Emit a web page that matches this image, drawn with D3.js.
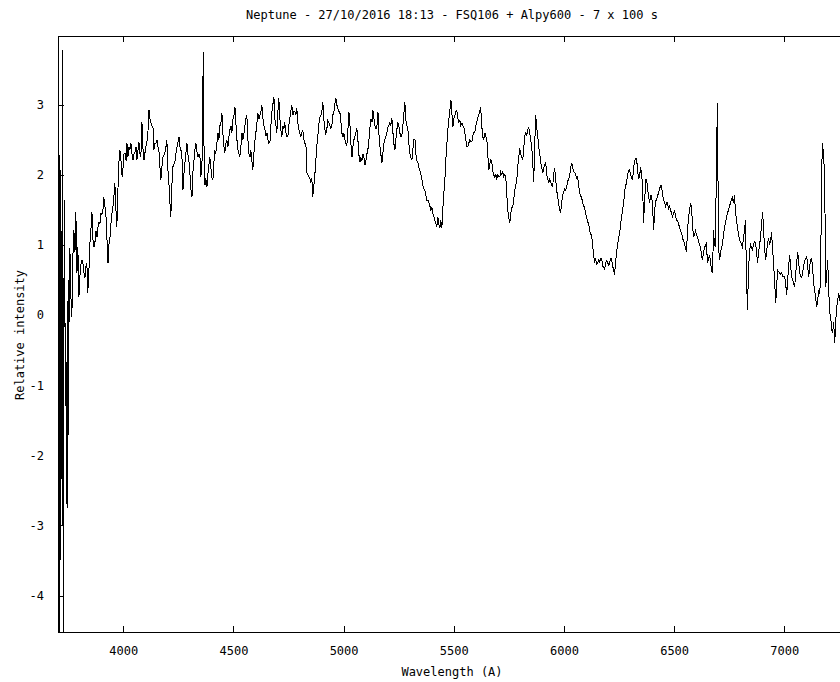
<!DOCTYPE html>
<html>
<head>
<meta charset="utf-8">
<script src="https://cdn.jsdelivr.net/npm/d3@7"></script>
<style>
	body { margin: 0; background: #fff; }
	text { font-family: "DejaVu Sans Mono", monospace; font-size: 12px; fill: #000; }
</style>
</head>
<body>
<div id="chart"></div>
<script>
// chart texts
var titleText = "Neptune - 27/10/2016 18:13 - FSQ106 + Alpy600 - 7 x 100 s";
var xLabelText = "Wavelength (A)";
var yLabelText = "Relative intensity";

// tick values
var xTicks = [4000, 4500, 5000, 5500, 6000, 6500, 7000];
var yTicks = [-4, -3, -2, -1, 0, 1, 2, 3];

// spectrum, wavelength in angstrom
var wavelength = [3706,3709,3713,3717,3720,3723,3726,3728,3731,3734,3737,3740,3742,3745,3747,3750,3753,3755,3758,3762,
	3767,3771,3776,3781,3785,3790,3794,3799,3806,3813,3817,3822,3826,3831,3835,3839,3844,3849,3853,3858,
	3862,3867,3872,3876,3881,3885,3890,3894,3899,3903,3908,3912,3917,3922,3926,3931,3935,3940,3944,3949,
	3953,3958,3962,3967,3971,3976,3980,3985,3990,3995,3999,4004,4008,4013,4017,4021,4026,4030,4035,4040,
	4044,4049,4053,4058,4062,4067,4071,4076,4080,4085,4089,4094,4098,4103,4107,4112,4117,4121,4126,4130,
	4135,4139,4144,4148,4153,4157,4162,4167,4171,4175,4180,4185,4189,4194,4198,4203,4207,4212,4216,4220,
	4225,4229,4234,4239,4244,4248,4253,4257,4262,4266,4271,4275,4280,4284,4289,4293,4298,4303,4307,4312,
	4316,4321,4325,4330,4334,4339,4344,4348,4352,4356,4359,4361,4364,4367,4371,4375,4380,4384,4389,4393,
	4398,4403,4407,4412,4416,4420,4425,4430,4434,4439,4444,4448,4452,4457,4461,4466,4470,4475,4480,4484,
	4489,4493,4498,4503,4507,4512,4516,4521,4525,4529,4534,4539,4543,4548,4552,4557,4561,4566,4570,4575,
	4579,4584,4588,4593,4598,4602,4607,4611,4616,4620,4625,4629,4634,4638,4643,4647,4652,4657,4661,4666,
	4670,4675,4679,4684,4688,4693,4697,4702,4706,4711,4715,4720,4724,4729,4733,4738,4742,4747,4751,4756,
	4760,4765,4770,4774,4779,4783,4788,4792,4797,4801,4806,4810,4815,4820,4824,4829,4833,4838,4842,4847,
	4851,4856,4860,4865,4869,4874,4878,4883,4887,4892,4897,4901,4906,4910,4915,4919,4924,4928,4933,4938,
	4942,4947,4951,4956,4960,4965,4969,4974,4979,4983,4988,4992,4997,5001,5006,5010,5015,5019,5024,5029,
	5033,5038,5042,5047,5051,5056,5060,5065,5069,5074,5078,5083,5088,5092,5097,5101,5106,5110,5115,5119,
	5124,5129,5133,5138,5142,5147,5151,5156,5160,5165,5169,5174,5178,5183,5187,5192,5196,5201,5205,5210,
	5214,5219,5224,5228,5233,5237,5242,5246,5251,5255,5260,5264,5269,5273,5278,5282,5287,5292,5296,5301,
	5305,5310,5314,5319,5324,5328,5333,5337,5342,5346,5351,5355,5360,5364,5369,5374,5378,5383,5387,5392,
	5396,5401,5405,5410,5414,5419,5423,5428,5432,5437,5441,5446,5450,5455,5460,5464,5469,5473,5478,5482,
	5487,5491,5496,5500,5505,5510,5514,5519,5523,5528,5532,5537,5541,5546,5550,5555,5559,5564,5568,5573,
	5577,5582,5586,5591,5595,5600,5604,5609,5613,5618,5622,5627,5632,5636,5641,5645,5650,5654,5659,5663,
	5668,5672,5677,5681,5686,5691,5695,5700,5704,5709,5713,5718,5722,5727,5731,5736,5740,5745,5749,5754,
	5759,5763,5768,5772,5777,5781,5786,5790,5795,5799,5804,5808,5813,5818,5822,5827,5831,5836,5840,5845,
	5849,5854,5858,5863,5867,5872,5876,5881,5885,5890,5894,5899,5904,5908,5913,5917,5922,5926,5931,5935,
	5940,5944,5949,5953,5958,5962,5967,5971,5976,5980,5985,5990,5994,5999,6003,6008,6012,6017,6021,6026,
	6030,6035,6040,6044,6049,6053,6058,6062,6067,6071,6076,6080,6085,6089,6094,6098,6103,6108,6112,6117,
	6121,6126,6130,6135,6139,6144,6148,6153,6158,6162,6167,6171,6176,6180,6185,6189,6194,6198,6203,6207,
	6212,6216,6221,6225,6230,6234,6239,6243,6248,6253,6257,6262,6266,6271,6275,6280,6284,6289,6293,6298,
	6303,6307,6312,6316,6321,6325,6330,6334,6339,6343,6348,6352,6357,6361,6366,6371,6375,6380,6384,6389,
	6393,6398,6403,6407,6412,6416,6420,6425,6430,6434,6439,6443,6448,6452,6457,6461,6466,6470,6475,6479,
	6484,6488,6493,6497,6502,6507,6511,6516,6520,6525,6529,6534,6538,6543,6547,6552,6556,6561,6565,6570,
	6574,6579,6583,6588,6593,6597,6602,6606,6611,6615,6620,6624,6629,6633,6638,6642,6647,6651,6656,6660,
	6665,6669,6674,6679,6683,6688,6692,6697,6701,6706,6711,6715,6720,6724,6729,6733,6738,6742,6747,6751,
	6756,6760,6765,6769,6774,6778,6783,6788,6792,6797,6801,6806,6810,6815,6819,6824,6828,6833,6837,6842,
	6847,6851,6856,6860,6865,6870,6874,6879,6883,6888,6892,6897,6902,6906,6911,6915,6920,6924,6929,6933,
	6938,6942,6947,6951,6956,6961,6965,6970,6974,6979,6983,6988,6992,6997,7002,7006,7011,7015,7020,7024,
	7029,7033,7038,7042,7047,7052,7056,7061,7065,7070,7074,7079,7083,7088,7092,7097,7102,7106,7111,7115,
	7120,7124,7129,7133,7138,7142,7147,7151,7156,7160,7165,7169,7174,7179,7183,7186,7188,7193,7197,7201,
	7206,7210,7215,7219,7224,7229,7233,7238,7242,7247,7252,7260,7270];

var intensity = [-1.78,-5.2,2.28,-3.5,1.2,-3.0,3.78,-5.2,-0.4,1.64,-1.3,-0.5,-1.45,-2.75,0.2,-1.71,0.5,-0.1,0.96,0.3,
	-0.03,0.8,1.21,0.9,1.47,0.6,0.97,0.26,0.7,0.78,0.74,0.6,0.53,0.7,0.74,0.31,0.6,1.03,1.2,1.47,
	1.1,0.97,1.05,1.2,1.11,1.25,1.33,1.3,1.45,1.43,1.5,1.68,1.55,1.40,1.1,0.74,1.0,1.11,1.3,1.45,
	1.54,1.7,1.88,1.5,1.26,1.78,2.17,2.35,2.2,1.97,2.1,2.31,2.31,2.2,2.45,2.25,2.4,2.35,2.45,2.3,
	2.21,2.3,2.31,2.4,2.21,2.35,2.47,2.3,2.25,2.75,2.4,2.21,2.3,2.4,2.45,2.6,2.92,2.8,2.74,2.7,
	2.68,2.35,2.45,2.45,2.50,2.4,2.35,2.1,1.93,2.1,2.25,2.28,2.31,2.4,2.50,2.07,1.9,1.6,1.40,1.8,
	2.11,2.15,2.17,2.3,2.40,2.45,2.54,2.4,2.35,2.31,1.78,2.0,2.17,2.3,2.45,2.3,2.21,2.0,1.8,1.68,
	2.03,2.2,2.35,2.45,2.35,2.25,2.3,2.28,1.97,2.1,2.3,3.2,3.75,2.2,1.85,1.95,1.83,2.0,2.15,2.25,
	2.1,1.95,1.93,2.2,2.35,2.3,2.45,2.6,2.5,2.7,2.75,2.88,2.6,2.4,2.31,2.45,2.5,2.4,2.55,2.64,
	2.7,2.6,2.8,2.85,2.97,2.7,2.5,2.35,2.3,2.25,2.4,2.6,2.5,2.6,2.7,2.8,2.85,2.5,2.3,2.25,
	2.35,2.2,2.07,2.3,2.5,2.6,2.75,2.88,2.8,2.85,2.9,3.0,2.8,2.7,2.65,2.55,2.6,2.5,2.45,2.47,
	2.7,2.9,3.0,3.11,2.8,2.7,2.6,2.9,3.09,2.8,2.65,2.54,2.7,2.65,2.75,2.6,2.55,2.54,2.7,2.8,
	2.9,3.0,2.85,2.9,2.9,2.85,2.95,2.75,2.65,2.6,2.55,2.6,2.64,2.5,2.45,2.45,2.03,2.0,1.98,1.95,
	1.9,1.95,1.68,1.85,1.97,2.2,2.4,2.55,2.7,2.82,2.85,2.9,3.04,2.8,2.65,2.57,2.65,2.78,2.75,2.7,
	2.65,2.71,2.85,2.9,3.0,3.09,3.0,2.95,2.9,2.9,2.75,2.6,2.54,2.6,2.5,2.45,2.42,2.6,2.9,2.7,
	2.45,2.25,2.4,2.5,2.55,2.6,2.67,2.5,2.3,2.18,2.25,2.2,2.3,2.25,2.14,2.2,2.3,2.35,2.5,2.65,
	2.8,2.75,2.92,2.8,2.7,2.65,2.68,2.9,2.6,2.4,2.3,2.17,2.3,2.45,2.5,2.55,2.6,2.68,2.7,2.75,
	2.7,2.81,2.6,2.45,2.35,2.5,2.65,2.75,2.7,2.6,2.55,2.54,2.7,2.85,3.04,2.8,2.7,2.64,2.45,2.3,
	2.25,2.21,2.35,2.5,2.5,2.3,2.2,2.18,2.1,2.07,2.0,1.95,1.85,1.8,1.78,1.7,1.64,1.64,1.6,1.55,
	1.5,1.54,1.45,1.4,1.35,1.3,1.26,1.40,1.3,1.24,1.35,1.24,1.5,1.74,1.95,2.21,2.45,2.64,2.8,2.9,
	3.07,2.9,2.68,2.8,2.85,2.9,2.92,2.8,2.75,2.78,2.7,2.74,2.7,2.68,2.6,2.5,2.4,2.4,2.45,2.5,
	2.47,2.47,2.55,2.6,2.6,2.7,2.75,2.81,2.85,2.9,2.97,2.7,2.54,2.5,2.6,2.55,2.52,2.3,2.07,2.15,
	2.21,2.2,2.05,2.0,1.97,2.0,1.95,2.0,1.97,1.97,2.04,2.0,2.04,1.97,2.0,1.97,1.75,1.50,1.4,1.31,
	1.45,1.54,1.54,1.65,1.78,1.85,1.93,2.1,2.25,2.38,2.3,2.25,2.21,2.4,2.55,2.6,2.55,2.65,2.67,2.6,
	2.5,2.4,2.2,1.9,2.4,2.85,2.7,2.55,2.42,2.3,2.2,2.1,2.03,2.1,2.15,2.18,2.0,1.95,1.88,1.95,
	1.9,1.85,1.83,2.0,2.10,1.95,1.78,1.7,1.6,1.5,1.47,1.6,1.71,1.75,1.8,1.78,1.83,1.9,1.95,1.97,
	2.1,2.17,2.1,2.05,2.03,2.0,1.95,1.97,1.85,1.75,1.7,1.68,1.6,1.55,1.54,1.45,1.4,1.33,1.3,1.2,
	1.15,1.14,1.0,0.85,0.76,0.8,0.72,0.74,0.8,0.75,0.81,0.81,0.7,0.68,0.64,0.75,0.78,0.76,0.7,0.75,
	0.8,0.81,0.7,0.65,0.57,0.75,0.90,1.0,1.1,1.17,1.3,1.4,1.50,1.6,1.75,1.85,1.88,2.0,2.05,2.07,
	2.0,1.95,1.93,2.1,2.2,2.24,2.24,2.05,1.95,1.97,2.11,2.0,1.88,1.31,1.6,1.93,1.93,1.8,1.7,1.60,
	1.7,1.71,1.5,1.21,1.5,1.64,1.64,1.7,1.75,1.8,1.85,1.85,1.7,1.65,1.60,1.55,1.6,1.61,1.5,1.55,
	1.5,1.45,1.4,1.45,1.50,1.4,1.35,1.35,1.3,1.25,1.2,1.17,1.1,1.05,1.03,0.95,0.90,1.2,1.4,1.47,
	1.6,1.54,1.3,1.11,1.15,1.2,1.15,1.11,1.05,1.0,0.97,0.85,0.78,0.9,0.95,1.0,1.03,0.74,0.8,0.85,
	0.78,0.65,0.60,1.21,1.0,0.97,2.3,3.02,1.0,0.78,0.9,0.95,1.03,1.15,1.25,1.31,1.4,1.45,1.50,1.55,
	1.6,1.65,1.68,1.6,1.71,1.5,1.35,1.25,1.15,1.07,1.05,1.0,0.97,1.1,1.2,1.35,0.6,0.07,0.6,0.9,
	1.03,0.95,0.93,1.0,1.05,1.03,0.9,0.74,0.9,1.0,1.11,1.3,1.47,1.2,0.95,0.78,0.9,1.03,1.1,1.0,
	1.05,1.18,0.93,0.75,0.5,0.17,0.4,0.64,0.62,0.6,0.58,0.60,0.55,0.55,0.54,0.45,0.29,0.5,0.7,0.86,
	0.7,0.55,0.50,0.45,0.40,0.6,0.75,0.90,0.75,0.6,0.55,0.54,0.6,0.7,0.78,0.8,0.83,0.7,0.54,0.7,
	0.8,0.81,0.65,0.46,0.35,0.25,0.11,0.2,0.36,0.3,0.5,2.07,2.45,2.2,2.07,1.0,0.40,0.6,0.78,0.4,
	0.03,0.0,-0.2,-0.26,-0.1,-0.40,-0.1,0.11,0.2,0.31,0.2,0.3,0.35];

var width = 840;
var height = 682;

// frame of the plot (right side runs past the window)
var frame = { left: 58, right: 846, top: 36, bottom: 632 };

var svg = d3.select("#chart").append("svg")
	.attr("width", width)
	.attr("height", height);

// scales
var xScale = d3.scaleLinear()
	.domain([3704, 7280])
	.range([frame.left, frame.right]);

var yScale = d3.scaleLinear()
	.domain([-4.52, 3.98])
	.range([frame.bottom, frame.top]);

var data = d3.zip(wavelength, intensity);

// clip the spectrum to the frame
svg.append("clipPath").attr("id", "plotClip")
	.append("rect")
	.attr("x", frame.left)
	.attr("y", frame.top)
	.attr("width", frame.right - frame.left)
	.attr("height", frame.bottom - frame.top);

// axes, ticks point inwards
var tickLen = 6;
var bottomAxis = d3.axisBottom(xScale).tickValues(xTicks).tickSizeInner(-tickLen).tickSizeOuter(0).tickPadding(14).tickFormat(d3.format("d"));
var topAxis = d3.axisTop(xScale).tickValues(xTicks).tickSizeInner(-tickLen).tickSizeOuter(0).tickFormat("");
var leftAxis = d3.axisLeft(yScale).tickValues(yTicks).tickSizeInner(-tickLen).tickSizeOuter(0).tickPadding(14);

var gBottom = svg.append("g").attr("transform", "translate(0," + frame.bottom + ")").call(bottomAxis);
var gTop = svg.append("g").attr("transform", "translate(0," + frame.top + ")").call(topAxis);
var gLeft = svg.append("g").attr("transform", "translate(" + frame.left + ",0)").call(leftAxis);

[gBottom, gTop, gLeft].forEach(function(g) {
	g.select(".domain").remove();
	g.selectAll("line").attr("stroke", "#000").attr("shape-rendering", "crispEdges");
	g.selectAll("text").attr("font-family", null).attr("font-size", null).attr("fill", "#000");
});
// plain hyphen for negative numbers, as in the original
gLeft.selectAll("text").text(function(d) { return d < 0 ? "-" + Math.abs(d) : d; });

// frame lines
svg.append("rect")
	.attr("x", frame.left + 0.5)
	.attr("y", frame.top + 0.5)
	.attr("width", frame.right - frame.left)
	.attr("height", frame.bottom - frame.top)
	.attr("fill", "none")
	.attr("stroke", "#000")
	.attr("stroke-width", 1)
	.attr("shape-rendering", "crispEdges");

// spectrum line
var line = d3.line()
	.x(function(d) { return xScale(d[0]); })
	.y(function(d) { return yScale(d[1]); });

svg.append("path")
	.datum(data)
	.attr("clip-path", "url(#plotClip)")
	.attr("d", line)
	.attr("fill", "none")
	.attr("stroke", "#000")
	.attr("stroke-width", 1)
	.attr("shape-rendering", "crispEdges");

// title and axis labels
svg.append("text")
	.attr("x", 452)
	.attr("y", 19)
	.attr("text-anchor", "middle")
	.text(titleText);

svg.append("text")
	.attr("x", 452)
	.attr("y", 676)
	.attr("text-anchor", "middle")
	.text(xLabelText);

svg.append("text")
	.attr("transform", "translate(24,335) rotate(-90)")
	.attr("text-anchor", "middle")
	.text(yLabelText);
</script>
</body>
</html>
